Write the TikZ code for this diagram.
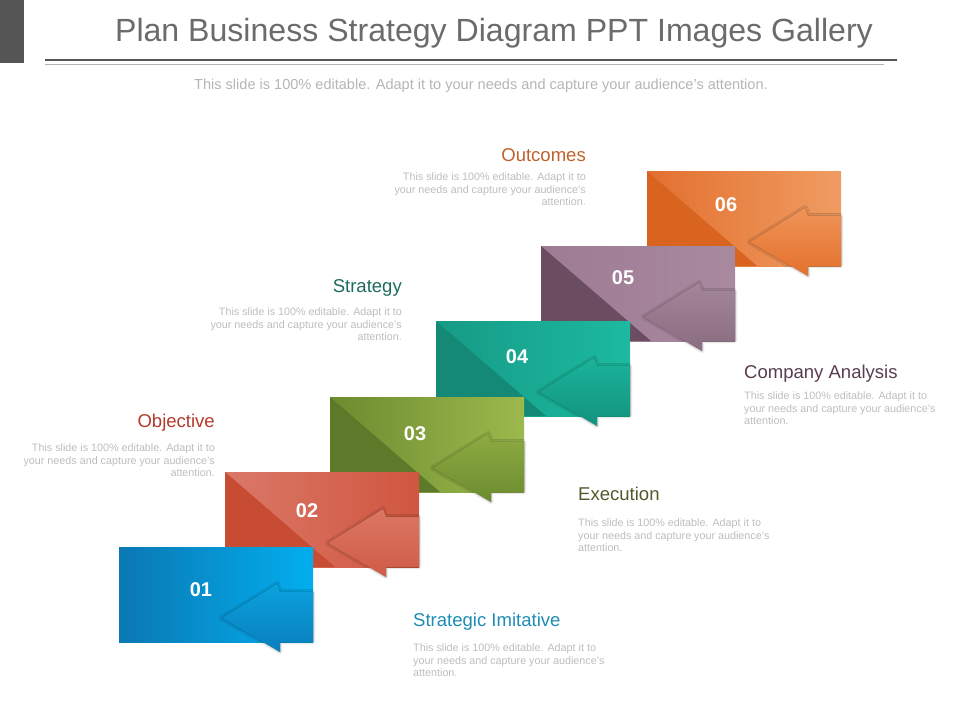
\documentclass[tikz,border=0pt]{standalone}
\usepackage{fontspec}
\setmainfont{Liberation Sans}
\usepackage{tikz}
\usetikzlibrary{shapes,shadows.blur}
\definecolor{headgray}{HTML}{555555}
\definecolor{titlegray}{HTML}{6B6B6B}
\definecolor{subgray}{HTML}{B5B5B5}
\definecolor{bodygray}{HTML}{BDBDBD}
\definecolor{blueL}{HTML}{0A78B3}\definecolor{blueR}{HTML}{03AEEE}\definecolor{blueT}{HTML}{0A78B3}
\definecolor{blueA}{HTML}{0AA2DE}\definecolor{blueB}{HTML}{0A7EBD}
\definecolor{redL}{HTML}{DA7868}\definecolor{redR}{HTML}{D0563F}\definecolor{redT}{HTML}{C84B34}
\definecolor{redA}{HTML}{DB7764}\definecolor{redB}{HTML}{CF5B46}
\definecolor{greenL}{HTML}{6D8B2F}\definecolor{greenR}{HTML}{9CB94D}\definecolor{greenT}{HTML}{5D7A2B}
\definecolor{greenA}{HTML}{8DAB41}\definecolor{greenB}{HTML}{6C8B2F}
\definecolor{tealL}{HTML}{169A86}\definecolor{tealR}{HTML}{1CBAA0}\definecolor{tealT}{HTML}{148A76}
\definecolor{tealA}{HTML}{1AB39A}\definecolor{tealB}{HTML}{13927E}
\definecolor{mauveL}{HTML}{9E7C94}\definecolor{mauveR}{HTML}{A8899E}\definecolor{mauveT}{HTML}{6B4D62}
\definecolor{mauveA}{HTML}{A48699}\definecolor{mauveB}{HTML}{8A6C81}
\definecolor{orangeL}{HTML}{E2702F}\definecolor{orangeR}{HTML}{F09C62}\definecolor{orangeT}{HTML}{D8641F}
\definecolor{orangeA}{HTML}{EF9458}\definecolor{orangeB}{HTML}{E4702C}
\definecolor{outC}{HTML}{C0602A}
\definecolor{strC}{HTML}{1C6B5C}
\definecolor{objC}{HTML}{B33A2C}
\definecolor{comC}{HTML}{573E4F}
\definecolor{exeC}{HTML}{4F5A2A}
\definecolor{imiC}{HTML}{1E8DB5}
\newcommand{\stepcard}[4]{%
\begin{scope}[shift={(#1bp,-#2bp)}]
\shade[left color=#3L,right color=#3R] (0bp,0bp) rectangle (194bp,-95bp);
\fill[#3T,opacity=#4] (0bp,0bp) -- (0bp,-95bp) -- (110bp,-95bp) -- cycle;
\shade[top color=#3A,bottom color=#3B,blur shadow={shadow xshift=0bp,shadow yshift=0bp,shadow blur radius=2.5bp,shadow opacity=45}] (103bp,-71bp) -- (158bp,-37bp) -- (161bp,-45bp) -- (194bp,-45bp) -- (194bp,-95bp) -- (161bp,-95bp) -- (161bp,-105bp) -- cycle;
\end{scope}}
\newcommand{\blurb}{This slide is 100\% editable.  Adapt it to\\your needs and capture your audience's\\attention.}
\tikzset{
headtext/.style={inner sep=0pt,font=\fontsize{18.6}{22}\selectfont},
bodytext/.style={inner sep=0pt,text=bodygray,font=\fontsize{10.8}{12.6}\selectfont},
numtext/.style={inner sep=0pt,text=white,font=\fontsize{20}{24}\selectfont\bfseries},
}

\begin{document}
\begin{tikzpicture}
\useasboundingbox (0bp,0bp) rectangle (960bp,-720bp);

\fill[headgray] (0bp,0bp) rectangle (24bp,-63bp);
\draw[headgray,line width=2.2bp] (45bp,-60bp) -- (897bp,-60bp);
\draw[gray!60,line width=0.8bp] (45bp,-64.5bp) -- (884bp,-64.5bp);
\node (title) at (494bp,-33bp)[inner sep=0pt,text=titlegray,font=\fontsize{32.2}{37}\selectfont] {Plan Business Strategy Diagram PPT Images Gallery};
\node (subtitle) at (481bp,-86bp)[inner sep=0pt,text=subgray,font=\fontsize{14.6}{17}\selectfont] {This slide is 100\% editable.  Adapt it to your needs and capture your audience's attention.};

\stepcard{647}{171}{orange}{1}
\stepcard{541}{246}{mauve}{1}
\stepcard{436}{321}{teal}{1}
\stepcard{330}{397}{green}{1}
\stepcard{225}{472}{red}{1}
\stepcard{119}{547}{blue}{0}

\node (n01) at (201bp,-590bp)[numtext] {01};
\node (n02) at (307bp,-511bp)[numtext] {02};
\node (n03) at (415bp,-434bp)[numtext] {03};
\node (n04) at (517bp,-357bp)[numtext] {04};
\node (n05) at (623bp,-278bp)[numtext] {05};
\node (n06) at (726bp,-205bp)[numtext] {06};

\node (h_out) at (586bp,-161bp)[headtext,anchor=base east,text=outC] {Outcomes};
\node (b_out) at (586bp,-172.7bp)[bodytext,anchor=north east,align=right] {\blurb};
\node (h_str) at (402bp,-292bp)[headtext,anchor=base east,text=strC] {Strategy};
\node (b_str) at (402bp,-307.7bp)[bodytext,anchor=north east,align=right] {\blurb};
\node (h_obj) at (215bp,-427bp)[headtext,anchor=base east,text=objC] {Objective};
\node (b_obj) at (215bp,-443.7bp)[bodytext,anchor=north east,align=right] {\blurb};
\node (h_com) at (744bp,-378bp)[headtext,anchor=base west,text=comC] {Company Analysis};
\node (b_com) at (744bp,-391.7bp)[bodytext,anchor=north west,align=left] {\blurb};
\node (h_exe) at (578bp,-500bp)[headtext,anchor=base west,text=exeC] {Execution};
\node (b_exe) at (578bp,-518.7bp)[bodytext,anchor=north west,align=left] {\blurb};
\node (h_imi) at (413bp,-626bp)[headtext,anchor=base west,text=imiC] {Strategic Imitative};
\node (b_imi) at (413bp,-643.7bp)[bodytext,anchor=north west,align=left] {\blurb};
\end{tikzpicture}
\end{document}
